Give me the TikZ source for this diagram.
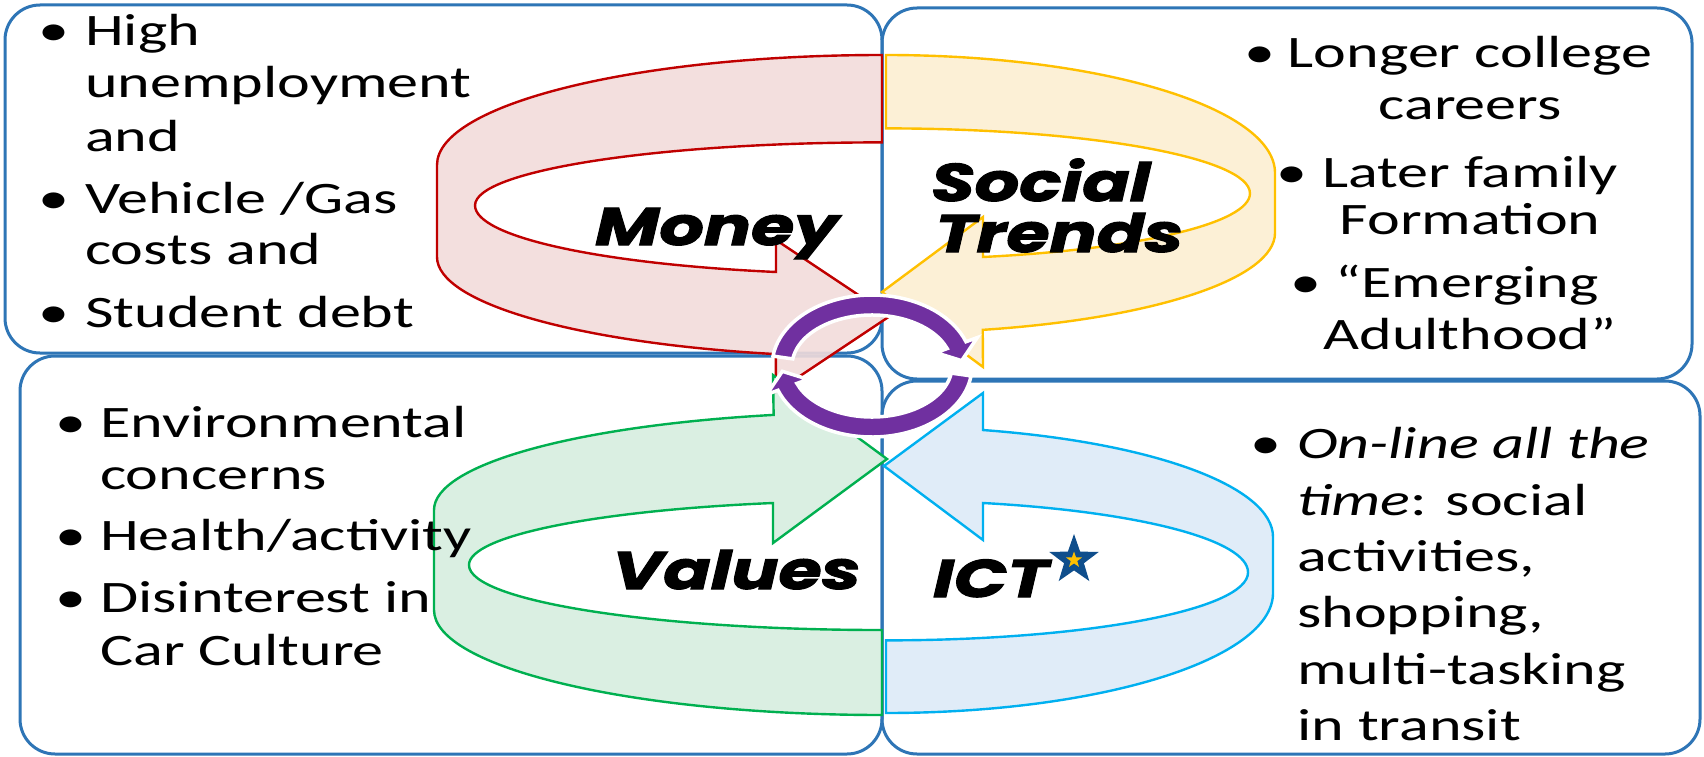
\documentclass[tikz,border=0pt]{standalone}
\usepackage{fontspec}
\setmainfont{Carlito}[FakeStretch=1.38]
\newfontfamily\lblfont{Poppins}[FakeStretch=1.32, FakeBold=2]
\usetikzlibrary{shapes.geometric}

\definecolor{boxblue}{HTML}{2E75B6}
\definecolor{mred}{HTML}{C00000}
\definecolor{mredfill}{HTML}{F2DCDB}
\definecolor{syel}{HTML}{FFC000}
\definecolor{syelfill}{HTML}{FCEFD2}
\definecolor{vgreen}{HTML}{00B050}
\definecolor{vgreenfill}{HTML}{D6EEDF}
\definecolor{iblue}{HTML}{00B0F0}
\definecolor{ibluefill}{HTML}{DDEBF8}
\definecolor{cyc}{HTML}{7030A0}
\definecolor{starblue}{HTML}{0F4E8C}
\definecolor{staryel}{HTML}{FFC000}

\begin{document}
\begin{tikzpicture}[x=1pt, y=-1pt,
  panel/.style={draw=boxblue, line width=3pt, rounded corners=35pt},
  ring/.style={line width=2.4pt, line join=miter, fill opacity=0.9},
  cycarrow/.style={fill=cyc, draw=white, line width=3.5pt, line join=miter},
  txt/.style={font=\fontsize{45}{52}\selectfont, inner sep=0pt, anchor=base west},
  ctxt/.style={txt, anchor=base},
  lbl/.style={font=\lblfont\bfseries\itshape\fontsize{53}{56}\selectfont, inner sep=0pt, anchor=base west}]

\useasboundingbox (0,0) rectangle (1704,757);
\fill[white] (0,0) rectangle (1704,757);

% four quadrant panels
\draw[panel] (5,5) rectangle (882,353);
\draw[panel] (882,8) rectangle (1692,379);
\draw[panel] (20,356) rectangle (882,754);
\draw[panel] (882,381) rectangle (1700,754);

% Money: circular ribbon arrow, tail at the back, head towards the centre
\filldraw[ring, draw=mred, fill=mredfill]
  (882,55) arc[start angle=270, end angle=180, x radius=445, y radius=110]
  -- (437,257) arc[start angle=180, end angle=103.8, x radius=445, y radius=100]
  -- (776,392) -- (890,316) -- (776,240) -- (776,272)
  arc[start angle=105.1, end angle=180, x radius=407, y radius=69]
  arc[start angle=180, end angle=270, x radius=407, y radius=63]
  -- cycle;

% Social trends
\filldraw[ring, draw=syel, fill=syelfill]
  (886,55) arc[start angle=270, end angle=360, x radius=389, y radius=118]
  -- (1275,233) arc[start angle=0, end angle=75.6, x radius=389, y radius=100]
  -- (983,367) -- (882,292) -- (983,217) -- (983,257)
  arc[start angle=74.54, end angle=0, x radius=364, y radius=66]
  arc[start angle=0, end angle=-90, x radius=364, y radius=65]
  -- cycle;

% Values
\filldraw[ring, draw=vgreen, fill=vgreenfill]
  (882,715) arc[start angle=90, end angle=180, x radius=448, y radius=105]
  -- (434,510) arc[start angle=180, end angle=256, x radius=448, y radius=98]
  -- (773,375) -- (887,459) -- (773,543) -- (773,503)
  arc[start angle=254.7, end angle=180, x radius=413, y radius=64.3]
  arc[start angle=180, end angle=90, x radius=413, y radius=65]
  -- cycle;

% ICT
\filldraw[ring, draw=iblue, fill=ibluefill]
  (886,713) arc[start angle=90, end angle=0, x radius=387, y radius=120]
  -- (1273,537) arc[start angle=0, end angle=-75.49, x radius=387, y radius=110.5]
  -- (983,393) -- (884,466) -- (983,540) -- (983,503)
  arc[start angle=-74.46, end angle=0, x radius=362, y radius=72]
  arc[start angle=0, end angle=90, x radius=362, y radius=68]
  -- cycle;

% central cycle symbol
\begin{scope}[shift={(872,366)}]
  \filldraw[cycarrow]
    (188:100 and 71) arc[start angle=188, end angle=340, x radius=100, y radius=71]
    -- (340:112 and 83) -- (355:90 and 61) -- (340:68 and 39) -- (340:80 and 51)
    arc[start angle=340, end angle=188, x radius=80, y radius=51] -- cycle;
  \filldraw[cycarrow]
    (8:100 and 71) arc[start angle=8, end angle=160, x radius=100, y radius=71]
    -- (160:112 and 83) -- (175:90 and 61) -- (160:68 and 39) -- (160:80 and 51)
    arc[start angle=160, end angle=8, x radius=80, y radius=51] -- cycle;
\end{scope}

% ring labels
\node[lbl] (money) at (595,245) {Money};
\node[lbl] (social) at (931,201) {Social};
\node[lbl] (trends) at (935,252) {Trends};
\node[lbl] (values) at (612,589) {Values};
\node[lbl] (ict) at (933,597) {ICT};
\node[star, star points=5, star point ratio=2.5, fill=starblue, minimum size=52pt, inner sep=0pt] (star) at (1074,560) {};
\node[star, star points=5, star point ratio=2.5, fill=staryel, minimum size=17pt, inner sep=0pt] (starin) at (star.center) {};

% top left panel
\node[txt] (tlb1) at (38,46) {•};
\node[txt] (tl1) at (85,46) {High};
\node[txt] (tl2) at (85,98) {unemployment};
\node[txt] (tl3) at (85,151) {and};
\node[txt] (tlb2) at (38,213) {•};
\node[txt] (tl4) at (85,213) {Vehicle /Gas};
\node[txt] (tl5) at (85,264) {costs and};
\node[txt] (tlb3) at (38,327) {•};
\node[txt] (tl6) at (85,327) {Student debt};

% bottom left panel
\node[txt] (blb1) at (55,437) {•};
\node[txt] (bl1) at (100,437) {Environmental};
\node[txt] (bl2) at (100,489) {concerns};
\node[txt] (blb2) at (55,550) {•};
\node[txt] (bl3) at (100,550) {Health/activity};
\node[txt] (blb3) at (55,612) {•};
\node[txt] (bl4) at (100,612) {Disinterest in};
\node[txt] (bl5) at (100,665) {Car Culture};

% top right panel (centred items)
\node[ctxt] (tr1) at (1470,68) {Longer college};
\node[txt, anchor=base east] (trb1) at ([xshift=-12pt]tr1.base west) {•};
\node[ctxt] (tr2) at (1470,120) {careers};
\node[ctxt] (tr3) at (1470,187) {Later family};
\node[txt, anchor=base east] (trb2) at ([xshift=-14pt]tr3.base west) {•};
\node[ctxt] (tr4) at (1470,234) {Formation};
\node[ctxt] (tr5) at (1467,297) {“Emerging};
\node[txt, anchor=base east] (trb3) at ([xshift=-14pt]tr5.base west) {•};
\node[ctxt] (tr6) at (1470,349) {Adulthood”};

% bottom right panel
\node[txt] (brb1) at (1250,458) {•};
\node[txt] (br1) at (1297,458) {\itshape On-line all the};
\node[txt] (br2) at (1297,515) {\textit{time}: social};
\node[txt] (br3) at (1297,571) {activities,};
\node[txt] (br4) at (1297,627) {shopping,};
\node[txt] (br5) at (1297,684) {multi-tasking};
\node[txt] (br6) at (1297,740) {in transit};
\end{tikzpicture}
\end{document}
